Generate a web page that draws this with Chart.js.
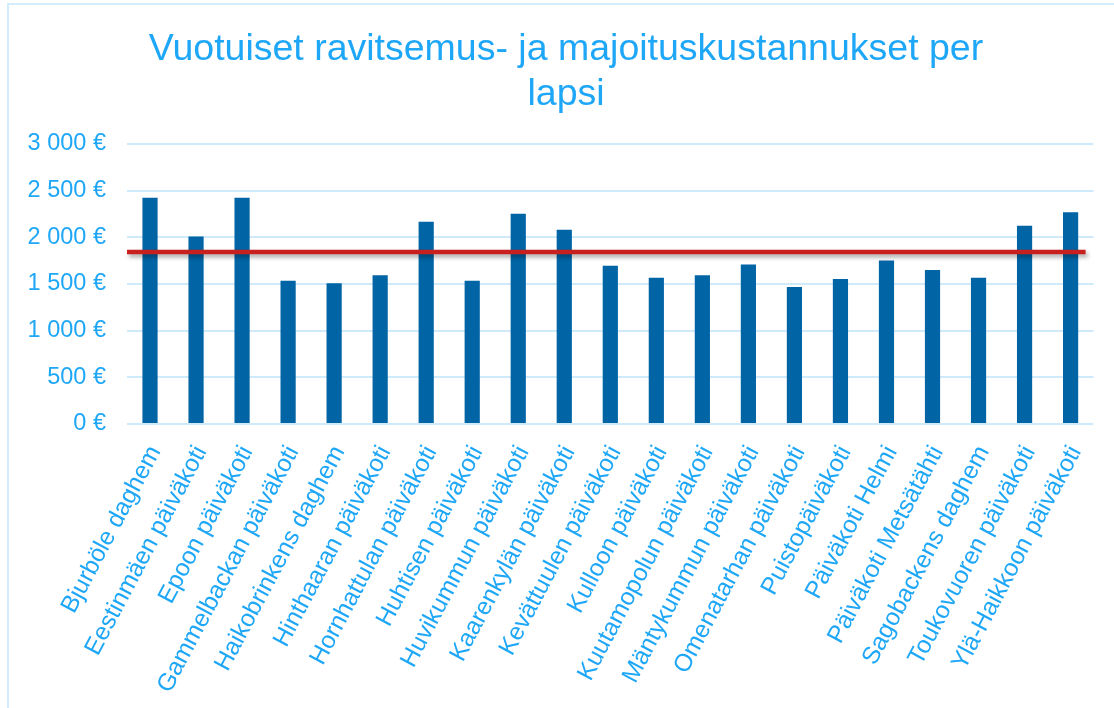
<!DOCTYPE html>
<html>
<head>
<meta charset="utf-8">
<script src="https://cdn.jsdelivr.net/npm/chart.js@4"></script>
<style>
  html, body { margin: 0; padding: 0; background: #ffffff; }
  #wrap { position: relative; width: 1114px; height: 708px; overflow: hidden; }
  #frame { position: absolute; left: 7px; top: 3px; width: 1200px; height: 800px;
           border-top: 2px solid #d2ecfb; border-left: 2px solid #d2ecfb; pointer-events: none; }
  canvas { position: absolute; left: 0; top: 0; }
</style>
</head>
<body>
<div id="wrap">
  <canvas id="c" width="1114" height="708"></canvas>
  <div id="frame"></div>
</div>
<script>
const titleLines = ['Vuotuiset ravitsemus- ja majoituskustannukset per', 'lapsi'];

const categories = [
  'Bjurböle daghem',
  'Eestinmäen päiväkoti',
  'Epoon päiväkoti',
  'Gammelbackan päiväkoti',
  'Haikobrinkens daghem',
  'Hinthaaran päiväkoti',
  'Hornhattulan päiväkoti',
  'Huhtisen päiväkoti',
  'Huvikummun päiväkoti',
  'Kaarenkylän päiväkoti',
  'Kevättuulen päiväkoti',
  'Kulloon päiväkoti',
  'Kuutamopolun päiväkoti',
  'Mäntykummun päiväkoti',
  'Omenatarhan päiväkoti',
  'Puistopäiväkoti',
  'Päiväkoti Helmi',
  'Päiväkoti Metsätähti',
  'Sagobackens daghem',
  'Toukovuoren päiväkoti',
  'Ylä-Haikkoon päiväkoti'
];

const costPerChild = [
  2423, 2010, 2423, 1536, 1507, 1593, 2166, 1536, 2252, 2081,
  1696, 1568, 1593, 1710, 1468, 1553, 1753, 1650, 1568, 2124, 2270
];

const averageCost = 1844;

const yTickValues = [0, 500, 1000, 1500, 2000, 2500, 3000];
const yTickLabels = ['0 €', '500 €', '1 000 €', '1 500 €', '2 000 €', '2 500 €', '3 000 €'];

const textColor = '#1fa7f7';
const barColor = '#0064a5';
const gridColor = '#cfeafb';
const avgColor = '#c8201e';

const averageLinePlugin = {
  id: 'averageLine',
  afterDatasetsDraw(chart) {
    const y = chart.scales.y.getPixelForValue(averageCost);
    const area = chart.chartArea;
    const ctx = chart.ctx;
    ctx.save();
    ctx.shadowColor = 'rgba(0,0,0,0.35)';
    ctx.shadowBlur = 4;
    ctx.shadowOffsetX = 2;
    ctx.shadowOffsetY = 3;
    ctx.strokeStyle = avgColor;
    ctx.lineWidth = 4.5;
    ctx.beginPath();
    ctx.moveTo(area.left, y);
    ctx.lineTo(area.right - 8, y);
    ctx.stroke();
    ctx.restore();
  }
};

Chart.defaults.font.family = '"Liberation Sans", Arial, sans-serif';

new Chart(document.getElementById('c'), {
  type: 'bar',
  data: {
    labels: categories,
    datasets: [{
      label: 'Kustannus per lapsi',
      data: costPerChild,
      backgroundColor: barColor,
      borderWidth: 0,
      barPercentage: 0.33,
      categoryPercentage: 1.0
    }]
  },
  options: {
    responsive: false,
    animation: false,
    devicePixelRatio: 1,
    layout: { padding: { left: 18, right: 0, top: 17, bottom: 0 } },
    plugins: {
      legend: { display: false },
      tooltip: { enabled: false },
      title: {
        display: true,
        text: titleLines,
        color: textColor,
        font: { size: 37.5, weight: 'normal' },
        lineHeight: 1.2,
        padding: { top: 10, bottom: 27 }
      }
    },
    scales: {
      x: {
        grid: { display: false, drawTicks: false },
        border: { display: false },
        afterFit(axis) { axis.height = 284; },
        ticks: {
          color: textColor,
          font: { size: 24.5 },
          maxRotation: 62,
          minRotation: 62,
          autoSkip: false,
          labelOffset: 5,
          padding: 17
        }
      },
      y: {
        min: 0,
        max: 3000,
        afterBuildTicks(axis) {
          axis.ticks = yTickValues.map(v => ({ value: v }));
        },
        afterFit(axis) { axis.width = 109; },
        grid: { color: gridColor, lineWidth: 2, drawTicks: false },
        border: { display: false },
        ticks: {
          color: textColor,
          font: { size: 23.5 },
          padding: 21,
          callback(value) {
            const i = yTickValues.indexOf(value);
            return i >= 0 ? yTickLabels[i] : '';
          }
        }
      },
      ySpace: {
        position: 'right',
        min: 0,
        max: 1,
        afterFit(axis) { axis.width = 19; },
        grid: { display: false, drawTicks: false },
        border: { display: false },
        ticks: { display: false }
      }
    }
  },
  plugins: [averageLinePlugin]
});
</script>
</body>
</html>
